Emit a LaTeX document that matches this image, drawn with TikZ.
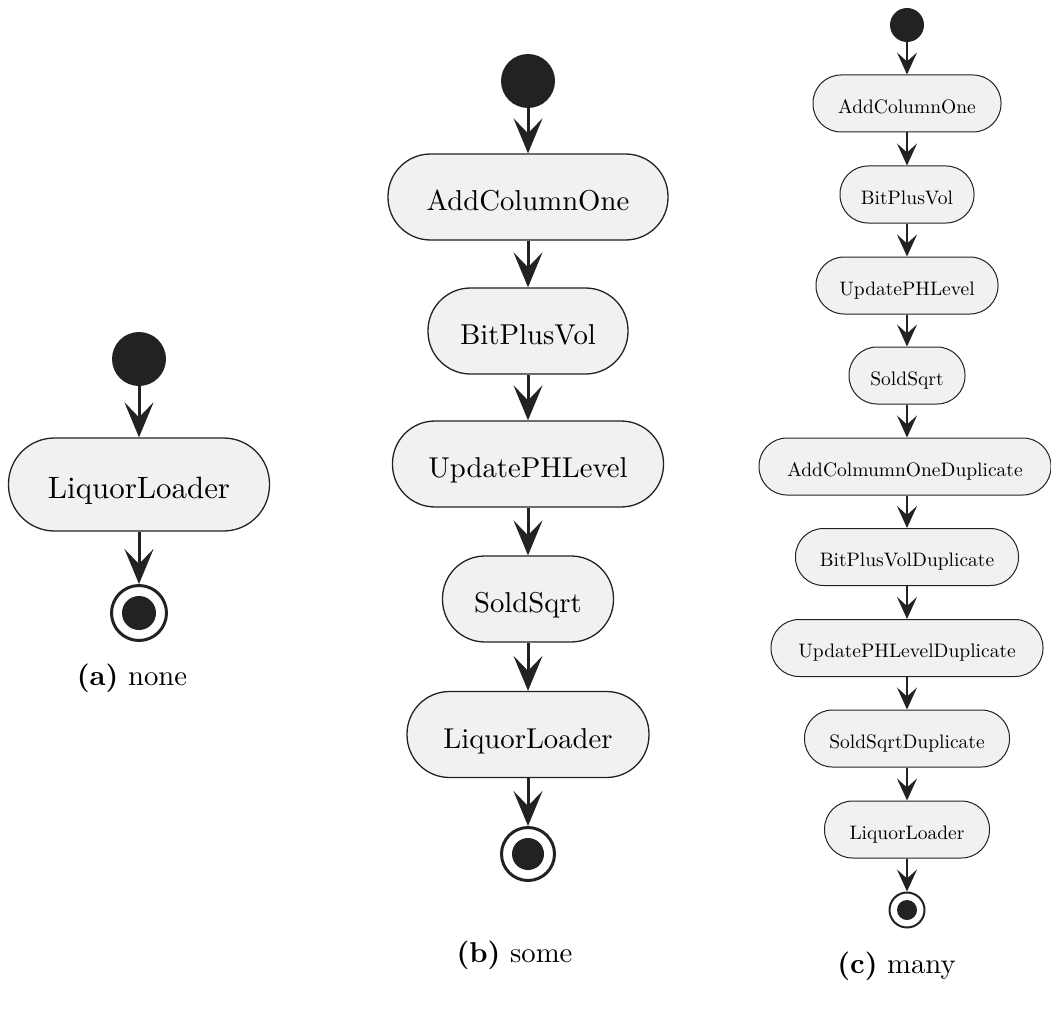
\documentclass[tikz,border=0pt]{standalone}
\usetikzlibrary{arrows.meta}
\definecolor{ink}{HTML}{222222}
\definecolor{actfill}{HTML}{F1F1F1}
% text is set at 10pt and scaled, so the 10pt design of Latin Modern is kept
\newcommand\txtA[1]{\scalebox{3.09}{#1}}
\newcommand\txtB[1]{\scalebox{2.87}{#1}}
\newcommand\txtC[1]{\scalebox{1.95}{#1}}
\begin{document}
\begin{tikzpicture}[x=1pt,y=-1pt,
  act/.style={draw=ink, fill=actfill, inner sep=0pt, text=black},
  actA/.style={act, line width=1.3pt, minimum height=93pt, rounded corners=46pt,
               text height=29pt, text depth=2pt},
  actB/.style={act, line width=1.3pt, minimum height=86pt, rounded corners=42.5pt,
               text height=29.4pt, text depth=2pt},
  actC/.style={act, line width=1pt, minimum height=57pt, rounded corners=28pt,
               text height=21.6pt, text depth=2pt},
  startdot/.style={circle, fill=ink, inner sep=0pt},
  endring/.style={circle, draw=ink, fill=white, inner sep=0pt},
  flowAB/.style={draw=ink, line width=3pt, -{Stealth[length=35pt,width=29pt,inset=15pt]}},
  flowC/.style={draw=ink, line width=2pt, -{Stealth[length=22pt,width=20pt,inset=9pt]}},
  caption/.style={anchor=base, inner sep=0pt}
]
\useasboundingbox (0,0) rectangle (1051,1019);

% ---------- (a) none ----------
\node[startdot, minimum size=54pt] (sa) at (139,359) {};
\node[actA, minimum width=261pt] (a1) at (139,484.5) {\txtA{LiquorLoader}};
\node[endring, line width=3pt, minimum size=55pt] (ea) at (139,613) {};
\fill[ink] (ea.center) circle (17);
\draw[flowAB] (sa) -- (a1);
\draw[flowAB] (a1) -- (ea);
\node[caption] (capa) at (132,685) {\txtB{\textbf{(a)} none}};

% ---------- (b) some ----------
\node[startdot, minimum size=54pt] (sb) at (528,81) {};
\node[actB, minimum width=280pt] (b1) at (528,197) {\txtB{AddColumnOne}};
\node[actB, minimum width=200pt] (b2) at (528,331) {\txtB{BitPlusVol}};
\node[actB, minimum width=271pt] (b3) at (528,464) {\txtB{UpdatePHLevel}};
\node[actB, minimum width=171pt] (b4) at (528,599) {\txtB{SoldSqrt}};
\node[actB, minimum width=242pt] (b5) at (528,734.5) {\txtB{LiquorLoader}};
\node[endring, line width=3pt, minimum size=53pt] (eb) at (528,854) {};
\fill[ink] (eb.center) circle (16);
\draw[flowAB] (sb) -- (b1);
\draw[flowAB] (b1) -- (b2);
\draw[flowAB] (b2) -- (b3);
\draw[flowAB] (b3) -- (b4);
\draw[flowAB] (b4) -- (b5);
\draw[flowAB] (b5) -- (eb);
\node[caption] (capb) at (514.5,962) {\txtB{\textbf{(b)} some}};

% ---------- (c) many ----------
\node[startdot, minimum size=34pt] (sc) at (907,25) {};
\node[actC, minimum width=188pt] (c1) at (907,103.5) {\txtC{AddColumnOne}};
\node[actC, minimum width=134pt] (c2) at (907,194.5) {\txtC{BitPlusVol}};
\node[actC, minimum width=182pt] (c3) at (907,285.5) {\txtC{UpdatePHLevel}};
\node[actC, minimum width=116pt] (c4) at (907,375.5) {\txtC{SoldSqrt}};
\node[actC, minimum width=292pt] (c5) at (905,466.5) {\txtC{AddColmumnOneDuplicate}};
\node[actC, minimum width=223pt] (c6) at (907,557) {\txtC{BitPlusVolDuplicate}};
\node[actC, minimum width=272pt] (c7) at (907,648) {\txtC{UpdatePHLevelDuplicate}};
\node[actC, minimum width=205pt] (c8) at (907,738.5) {\txtC{SoldSqrtDuplicate}};
\node[actC, minimum width=165pt] (c9) at (907,829.5) {\txtC{LiquorLoader}};
\node[endring, line width=2pt, minimum size=35pt] (ec) at (907,910) {};
\fill[ink] (ec.center) circle (10);
\draw[flowC] (sc) -- (c1);
\draw[flowC] (c1) -- (c2);
\draw[flowC] (c2) -- (c3);
\draw[flowC] (c3) -- (c4);
\draw[flowC] (c4) -- (c5.north -| c4);
\draw[flowC] (c5.south -| c4) -- (c6);
\draw[flowC] (c6) -- (c7);
\draw[flowC] (c7) -- (c8);
\draw[flowC] (c8) -- (c9);
\draw[flowC] (c9) -- (ec);
\node[caption] (capc) at (896.5,973) {\txtB{\textbf{(c)} many}};
\end{tikzpicture}
\end{document}
